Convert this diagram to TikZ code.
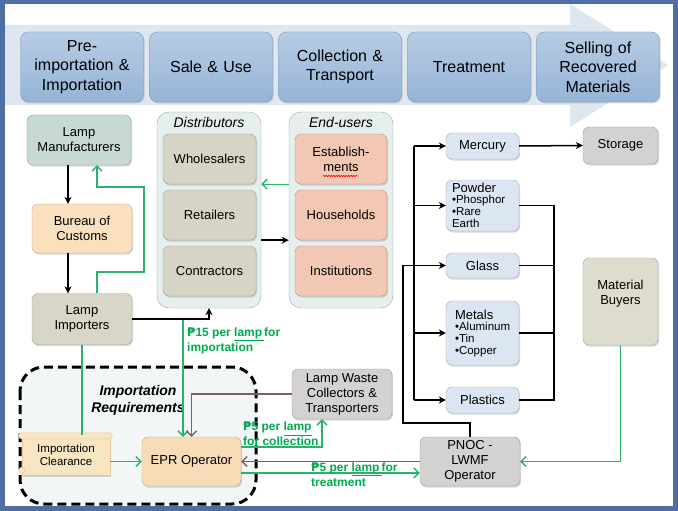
\documentclass[tikz,border=0pt]{standalone}
\usepackage{fontspec}
\setmainfont{Liberation Sans}
\newfontfamily\pesofont{DejaVu Sans}
\usetikzlibrary{arrows.meta, shadows, calc, decorations.pathmorphing}

\definecolor{frameblue}{RGB}{79,110,163}
\definecolor{bannerclr}{RGB}{222,230,240}
\definecolor{phasetop}{RGB}{183,204,228}
\definecolor{phasebot}{RGB}{150,180,214}
\definecolor{phaseline}{RGB}{120,150,190}
\definecolor{manufclr}{RGB}{200,216,212}
\definecolor{customsclr}{RGB}{251,224,190}
\definecolor{importclr}{RGB}{216,214,198}
\definecolor{groupclr}{RGB}{230,238,238}
\definecolor{distclr}{RGB}{214,212,196}
\definecolor{userclr}{RGB}{242,200,180}
\definecolor{matclr}{RGB}{220,230,242}
\definecolor{grayclr}{RGB}{212,210,209}
\definecolor{buyerclr}{RGB}{222,221,205}
\definecolor{eprclr}{RGB}{248,220,184}
\definecolor{scrollclr}{RGB}{248,229,194}
\definecolor{reqclr}{RGB}{243,246,246}
\definecolor{grnline}{RGB}{40,178,108}
\definecolor{grntext}{RGB}{0,170,80}
\definecolor{brnline}{RGB}{125,98,92}

\def\phfont{\fontsize{16}{19.5}\selectfont}
\def\boxfont{\fontsize{13}{15}\selectfont}
\def\subfont{\fontsize{11.5}{13.5}\selectfont}
\def\feefont{\fontsize{12}{15}\selectfont\bfseries\color{grntext}}
\def\peso{{\pesofont ₱}}

\tikzset{
  phase/.style={rounded corners=8pt, top color=phasetop, bottom color=phasebot, draw=phaseline,
    minimum width=123pt, minimum height=70pt, text width=118pt, align=center, inner sep=0pt,
    font=\phfont, drop shadow={shadow xshift=1.2pt, shadow yshift=-1.5pt, opacity=0.3}},
  box/.style={rounded corners=6pt, draw=#1!75!black, fill=#1, align=center, inner sep=0pt,
    font=\boxfont, drop shadow={shadow xshift=1pt, shadow yshift=-1.5pt, opacity=0.3}},
  group/.style={rounded corners=12pt, draw=gray!70, fill=groupclr, minimum width=104pt, minimum height=196pt},
  blk/.style={draw=black, line width=1.5pt},
  blkarrow/.style={blk, -{Stealth[length=7pt,width=7pt]}},
  grn/.style={draw=grnline, line width=1.4pt},
  grnarrow/.style={grn, -{Straight Barb[length=5pt,width=10pt]}},
  brnarrow/.style={draw=brnline, line width=1.4pt, -{Straight Barb[length=5pt,width=10pt]}},
  fee/.style={align=left, anchor=west, inner sep=0pt, font=\feefont},
}

\begin{document}
\begin{tikzpicture}[x=1pt,y=-1pt]
  \useasboundingbox (0,0) rectangle (678,511);

  % Frame
  \fill[frameblue] (0,0) rectangle (678,511);
  \fill[white] (5,4) rectangle (673,506);

  % Banner
  \fill[bannerclr] (5,25) -- (570,25) -- (570,4) -- (668,65) -- (570,127) -- (570,105) -- (5,105) -- cycle;

  \foreach \x/\txt [count=\i] in {82/{Pre-\\importation \&\\Importation}, 211/{Sale \& Use},
      340/{Collection \&\\Transport}, 469/{Treatment}, 598/{Selling of\\Recovered\\Materials}}
    \node[phase] (ph\i) at (\x,67) {\txt};

  % Importers
  \node[box=manufclr, minimum width=104pt, minimum height=50pt] (manuf) at (79,140) {Lamp\\Manufacturers};
  \node[box=customsclr, minimum width=100pt, minimum height=49pt] (customs) at (82,228.5) {Bureau of\\Customs};
  \node[box=importclr, minimum width=100pt, minimum height=51pt] (importers) at (82,319) {Lamp\\Importers};

  \coordinate (colA) at (68,0);
  \coordinate (colG) at (97,0);
  \draw[blkarrow] (manuf.south -| colA) -- (customs.north -| colA);
  \draw[blkarrow] (customs.south -| colA) -- (importers.north -| colA);
  \draw[grnarrow] (importers.north -| colG) |- (144,272) |- (97,187) -- (manuf.south -| colG);

  % Distributors & End-users
  \node[group] (distrib) at (209,210) {};
  \node[font=\fontsize{14}{16}\selectfont\itshape] (distTitle) at (209,122) {Distributors};
  \node[group] (users) at (341,210) {};
  \node[font=\fontsize{14}{16}\selectfont\itshape] (userTitle) at (341,122) {End-users};

  \foreach \y/\txt/\nm in {159/Wholesalers/whole, 215/Retailers/retail, 271/Contractors/contract}
    \node[box=distclr, minimum width=93pt, minimum height=50pt] (\nm) at (209.5,\y) {\txt};
  \foreach \y/\txt/\nm in {159/{Establish-\\ments}/estab, 215/Households/house, 271/Institutions/inst}
    \node[box=userclr, minimum width=92pt, minimum height=50pt] (\nm) at (341,\y) {\txt};
  \draw[red, line width=0.6pt, decorate, decoration={snake, amplitude=0.7pt, segment length=2.5pt}]
    ($(estab.center)+(-18,17)$) -- ($(estab.center)+(17,17)$);

  \draw[grnarrow] (users.west |- whole.south) -- (distrib.east |- whole.south);
  \draw[blkarrow] (distrib.east |- retail.south) -- (users.west |- retail.south);
  \draw[blkarrow] (importers.east) -| (distrib.south);

  % Materials
  \node[box=matclr, minimum width=73pt, minimum height=26pt] (mercury) at (482.5,146) {Mercury};
  \node[box=matclr, minimum width=73pt, minimum height=51pt] (powder) at (482.5,205.5) {};
  \node[align=left, anchor=west, inner sep=0pt] (powderTxt) at ([xshift=6pt]powder.west)
    {{\boxfont Powder}\\[-1pt]{\subfont \textbullet Phosphor}\\{\subfont \textbullet Rare}\\{\subfont Earth}};
  \node[box=matclr, minimum width=73pt, minimum height=25pt] (glass) at (482.5,265.5) {Glass};
  \node[box=matclr, minimum width=73pt, minimum height=64pt] (metals) at (482.5,333) {};
  \node[align=left, anchor=west, inner sep=0pt] (metalsTxt) at ([xshift=9pt]metals.west)
    {{\boxfont Metals}\\[-1pt]{\subfont \textbullet Aluminum}\\{\subfont \textbullet Tin}\\{\subfont \textbullet Copper}};
  \node[box=matclr, minimum width=73pt, minimum height=26pt] (plastics) at (482.5,400) {Plastics};
  \node[box=grayclr, minimum width=75pt, minimum height=37pt] (storage) at (620.5,145.5) {Storage};
  \node[box=buyerclr, minimum width=75pt, minimum height=87pt] (buyers) at (620.5,301.5) {Material\\Buyers\\[4pt]};

  \coordinate (busL) at (414,0);
  \coordinate (busR) at (554,0);
  \coordinate (busP) at (403,423);
  \draw[blk] (mercury.west -| busL) -- (plastics.west -| busL);
  \foreach \nm in {mercury, powder, metals, plastics}
    \draw[blkarrow] (\nm.west -| busL) -- (\nm.west);
  \draw[blk] (powder.east) -| (plastics.east -| busR) -- (plastics.east);
  \foreach \nm in {glass, metals}
    \draw[blk] (\nm.east) -- (\nm.east -| busR);
  \draw[blkarrow] (mercury.east) -- (storage.west);

  % Importation requirements
  \draw[line width=3pt, dash pattern=on 9pt off 5pt, rounded corners=24pt, fill=reqclr]
    (20,367) rectangle (256,504);
  \node[font=\fontsize{14}{17}\selectfont\bfseries\itshape, align=center] (reqTitle) at (138,400)
    {Importation\\Requirements};

  \node[draw=scrollclr!70!brown, fill=scrollclr, minimum width=88pt, minimum height=40pt, inner sep=0pt,
    align=center, font=\subfont, drop shadow={shadow xshift=1pt, shadow yshift=-1.5pt, opacity=0.3}]
    (clearance) at (66,455) {Importation\\Clearance};
  \filldraw[draw=scrollclr!70!brown, fill=scrollclr, rounded corners=2.5pt]
    ($(clearance.north west)+(-3,-2)$) rectangle ($(clearance.north east)+(2,4)$);
  \filldraw[draw=scrollclr!70!brown, fill=scrollclr] ($(clearance.south west)+(0,-5)$) circle (3);

  \node[box=eprclr, minimum width=99pt, minimum height=49pt] (epr) at (191.5,461.5) {EPR Operator};
  \node[box=grayclr, minimum width=100pt, minimum height=50pt] (collectors) at (342,394)
    {Lamp Waste\\Collectors \&\\Transporters};
  \node[box=grayclr, minimum width=100pt, minimum height=49pt] (pnoc) at (470,461.5) {PNOC -\\LWMF\\Operator};

  \draw[grn] (importers.south) -- (importers.south |- clearance.north);
  \draw[grnarrow] (clearance.east |- epr.west) -- (epr.west);

  % Fees
  \coordinate (feeA) at (183,320);
  \draw[grnarrow] (feeA) -- (feeA |- epr.north);
  \node[fee] (feeImport) at (187,341) {\peso15 per \underline{lamp\,}for\\importation};
  \draw[brnarrow] (collectors.west) -| (epr.north);
  \draw[grnarrow] ([yshift=14.5pt]epr.east) -| ([xshift=-20pt]collectors.south);
  \node[fee] (feeCollect) at (243,434) {\peso5 per \underline{lamp}\\for collection};
  \draw[brnarrow] (pnoc.west) -- (epr.east);
  \draw[grnarrow] ([yshift=-11.5pt]epr.east) -- ([yshift=-11.5pt]pnoc.west);
  \node[fee] (feeTreat) at (311,474.5) {\peso5 per \underline{lamp\,}for\\treatment};

  \draw[grnarrow] (buyers.south) |- (pnoc.east);
  \draw[blkarrow] (pnoc.north) |- (busP) |- (glass.west);
\end{tikzpicture}
\end{document}
